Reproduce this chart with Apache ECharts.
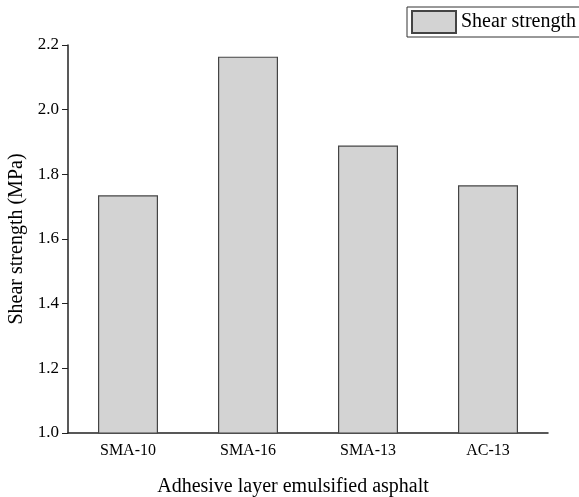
<!DOCTYPE html>
<html>
<head>
<meta charset="utf-8">
<script src="https://cdn.jsdelivr.net/npm/echarts@6/dist/echarts.min.js"></script>
<style>
  html, body { margin: 0; padding: 0; background: #fff; }
  #chart { width: 579px; height: 497px; }
</style>
</head>
<body>
<div id="chart"></div>
<script>
// data
const categories = ['SMA-10', 'SMA-16', 'SMA-13', 'AC-13'];
const shearStrength = [1.735, 2.164, 1.889, 1.766];
const yTicks = [1.0, 1.2, 1.4, 1.6, 1.8, 2.0, 2.2];

const font = 'Liberation Serif, Times New Roman, serif';
const chart = echarts.init(document.getElementById('chart'));

chart.setOption({
    animation: false,
    backgroundColor: '#fff',
    textStyle: { fontFamily: font, color: '#000' },
    grid: { left: 68, right: 31, top: 45, bottom: 64, outerBoundsMode: 'none', containLabel: false },
    legend: {
        data: ['Shear strength'],
        left: 407,
        top: 7,
        padding: [3, 30, 3, 4],
        itemWidth: 44,
        itemHeight: 22,
        borderColor: '#333',
        borderWidth: 1,
        borderRadius: 0,
        textStyle: { fontFamily: font, fontSize: 20, color: '#000' },
        icon: 'rect'
    },
    xAxis: {
        type: 'category',
        data: categories,
        name: 'Adhesive layer emulsified asphalt',
        nameLocation: 'middle',
        nameGap: 44,
        nameTextStyle: { fontFamily: font, fontSize: 20, color: '#000', padding: [0, 30, 0, 0] },
        axisLine: { lineStyle: { color: '#222', width: 1.5 } },
        axisTick: { alignWithLabel: true, inside: true, length: 6, lineStyle: { color: '#222' } },
        axisLabel: { fontFamily: font, fontSize: 16, color: '#000', margin: 10 },
        splitLine: { show: false }
    },
    yAxis: {
        type: 'value',
        min: yTicks[0],
        max: yTicks[yTicks.length - 1],
        interval: 0.2,
        name: 'Shear strength (MPa)',
        nameLocation: 'middle',
        nameGap: 39,
        nameTextStyle: { fontFamily: font, fontSize: 20, color: '#000' },
        axisLine: { show: true, lineStyle: { color: '#222', width: 1.5 } },
        axisTick: { show: true, length: 6, lineStyle: { color: '#222' } },
        axisLabel: {
            fontFamily: font, fontSize: 17, color: '#000', margin: 9,
            formatter: v => v.toFixed(1)
        },
        splitLine: { show: false }
    },
    series: [{
        name: 'Shear strength',
        type: 'bar',
        data: shearStrength,
        barWidth: '50%',
        itemStyle: { color: '#d3d3d3', borderColor: '#444', borderWidth: 1.2 }
    }]
});
</script>
</body>
</html>
